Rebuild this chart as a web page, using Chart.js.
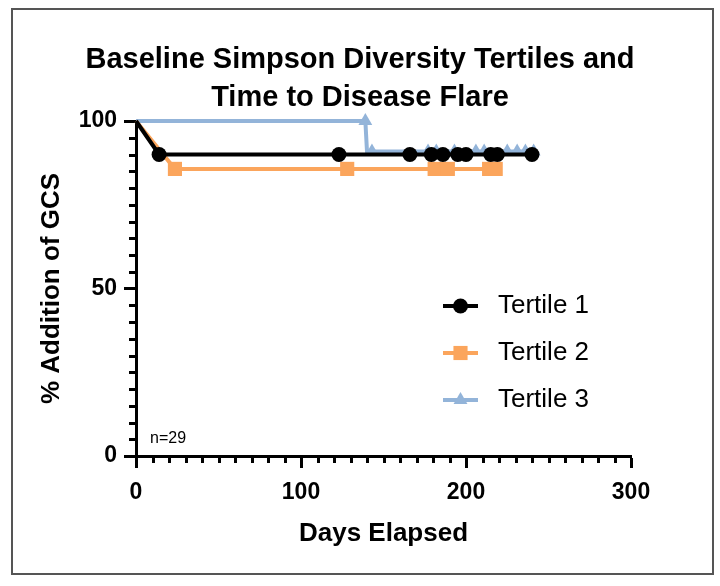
<!DOCTYPE html>
<html>
<head>
<meta charset="utf-8">
<script src="https://cdn.jsdelivr.net/npm/chart.js@4.4.1/dist/chart.umd.min.js"></script>
<style>
  html, body { margin: 0; padding: 0; background: #fff; }
  #wrap { position: relative; width: 720px; height: 586px; }
  #frame { position: absolute; left: 11px; top: 8px; width: 699px; height: 563px; border: 2px solid #555; pointer-events: none; }
</style>
</head>
<body>
<div id="wrap">
  <canvas id="c"></canvas>
  <div id="frame"></div>
</div>
<script>
// ---- data ----
const chartTitle = ['Baseline Simpson Diversity Tertiles and', 'Time to Disease Flare'];
const xTitle = 'Days Elapsed';
const yTitle = '% Addition of GCS';
const nLabel = 'n=29';
const seriesNames = ['Tertile 1', 'Tertile 2', 'Tertile 3'];

const t1Days = [0, 14, 123, 166, 179, 186, 195, 200, 215, 219, 240];
const t1Pct  = [100, 90, 90, 90, 90, 90, 90, 90, 90, 90, 90];
const t1Mark = [0, 1, 1, 1, 1, 1, 1, 1, 1, 1, 1];

const t2Days = [0, 23.6, 128, 181, 189, 214, 218];
const t2Pct  = [100, 85.7, 85.7, 85.7, 85.7, 85.7, 85.7];
const t2Mark = [0, 1, 1, 1, 1, 1, 1];

const t3Days = [0, 139, 140, 143, 177, 182, 193, 206, 211, 225, 231, 236, 241];
const t3Pct  = [100, 100, 90.9, 90.9, 90.9, 90.9, 90.9, 90.9, 90.9, 90.9, 90.9, 90.9, 90.9];
const t3Mark = [0, 1, 0, 1, 1, 1, 1, 1, 1, 1, 1, 1, 1];

const xTickLabels = [0, 100, 200, 300];
const yTickLabels = [0, 50, 100];

// ---- styles ----
const FONT = '"Liberation Sans", Arial, Helvetica, sans-serif';
const colors = ['#000000', '#FBA55C', '#93B4D9'];
const styles = ['circle', 'rect', 'triangle'];
const radii = [7.5, 10, 8];

function pts(days, pct) { return days.map((d, i) => ({ x: d, y: pct[i] })); }
function mk(name, days, pct, marks, i) {
  return {
    label: name,
    data: pts(days, pct),
    showLine: true,
    borderColor: colors[i],
    backgroundColor: colors[i],
    borderWidth: 4,
    tension: 0,
    pointStyle: styles[i],
    pointRadius: c => marks[c.dataIndex] ? radii[i] : 0,
    pointHoverRadius: c => marks[c.dataIndex] ? radii[i] : 0,
    pointBorderWidth: 0,
    pointBackgroundColor: colors[i],
    pointBorderColor: colors[i],
    clip: false
  };
}

function drawMarker(ctx, style, x, y, r, color) {
  ctx.fillStyle = color;
  ctx.beginPath();
  if (style === 'circle') {
    ctx.arc(x, y, r, 0, Math.PI * 2);
  } else if (style === 'rect') {
    const s = Math.SQRT1_2 * r;
    ctx.rect(x - s, y - s, 2 * s, 2 * s);
  } else {
    ctx.moveTo(x, y - r);
    ctx.lineTo(x + Math.sin(Math.PI * 2 / 3) * r, y - Math.cos(Math.PI * 2 / 3) * r);
    ctx.lineTo(x - Math.sin(Math.PI * 2 / 3) * r, y - Math.cos(Math.PI * 2 / 3) * r);
    ctx.closePath();
  }
  ctx.fill();
}

const decor = {
  id: 'decor',
  afterDraw(chart) {
    const ctx = chart.ctx;
    const xs = chart.scales.x, ys = chart.scales.y;
    ctx.save();
    // minor ticks
    ctx.strokeStyle = '#000';
    ctx.lineWidth = 3;
    xs.ticks.forEach(t => {
      if (!xTickLabels.includes(t.value)) {
        const px = Math.round(xs.getPixelForValue(t.value)) + 0.5;
        ctx.beginPath(); ctx.moveTo(px, xs.top); ctx.lineTo(px, xs.top + 7); ctx.stroke();
      }
    });
    ys.ticks.forEach(t => {
      if (!yTickLabels.includes(t.value)) {
        const py = Math.round(ys.getPixelForValue(t.value)) + 0.5;
        ctx.beginPath(); ctx.moveTo(ys.right, py); ctx.lineTo(ys.right - 7, py); ctx.stroke();
      }
    });
    // n label
    ctx.fillStyle = '#000';
    ctx.font = '16px ' + FONT;
    ctx.textAlign = 'left';
    ctx.textBaseline = 'middle';
    ctx.fillText(nLabel, chart.chartArea.left + 14, chart.chartArea.bottom - 17);
    // legend
    const lx = 443, lw = 35, ly0 = 306, gap = 47;
    chart.data.datasets.forEach((ds, i) => {
      const y = ly0 + i * gap;
      ctx.strokeStyle = colors[i];
      ctx.lineWidth = 4;
      ctx.beginPath(); ctx.moveTo(lx, y); ctx.lineTo(lx + lw, y); ctx.stroke();
      drawMarker(ctx, styles[i], lx + lw / 2, y, radii[i], colors[i]);
      ctx.fillStyle = '#000';
      ctx.font = '26px ' + FONT;
      ctx.textAlign = 'left';
      ctx.textBaseline = 'middle';
      ctx.fillText(ds.label, 498, y);
    });
    ctx.restore();
  }
};

new Chart(document.getElementById('c'), {
  type: 'scatter',
  data: {
    datasets: [
      mk(seriesNames[0], t1Days, t1Pct, t1Mark, 0),
      mk(seriesNames[1], t2Days, t2Pct, t2Mark, 1),
      mk(seriesNames[2], t3Days, t3Pct, t3Mark, 2)
    ]
  },
  options: {
    responsive: true,
    maintainAspectRatio: false,
    animation: false,
    events: [],
    layout: { padding: { left: 0, right: 0, top: 0, bottom: 0 } },
    plugins: {
      legend: { display: false },
      tooltip: { enabled: false },
      title: {
        display: true,
        text: chartTitle,
        color: '#000',
        font: { family: FONT, size: 29, weight: 'bold', lineHeight: '38px' },
        padding: { top: 41, bottom: 4 }
      }
    },
    scales: {
      x: {
        type: 'linear',
        min: 0, max: 300,
        afterFit: s => { s.height = 130; },
        border: { display: true, color: '#000', width: 3 },
        grid: {
          display: true, drawOnChartArea: false, drawTicks: true,
          tickLength: 12, tickWidth: 3,
          tickColor: c => (c.tick && xTickLabels.includes(c.tick.value)) ? '#000' : 'rgba(0,0,0,0)'
        },
        ticks: {
          stepSize: 10, autoSkip: false, maxRotation: 0, padding: 11,
          color: '#000',
          font: { family: FONT, size: 23, weight: 'bold' },
          callback: v => xTickLabels.includes(v) ? String(v) : ''
        },
        title: {
          display: true, text: xTitle, color: '#000',
          font: { family: FONT, size: 26, weight: 'bold', lineHeight: 1.2 },
          padding: { top: 0, bottom: 37 }
        }
      },
      y: {
        type: 'linear',
        min: 0, max: 100,
        afterFit: s => { s.width = 136; },
        border: { display: true, color: '#000', width: 3 },
        grid: {
          display: true, drawOnChartArea: false, drawTicks: true,
          tickLength: 12, tickWidth: 3,
          tickColor: c => (c.tick && yTickLabels.includes(c.tick.value)) ? '#000' : 'rgba(0,0,0,0)'
        },
        ticks: {
          stepSize: 5, autoSkip: false, padding: 7,
          color: '#000',
          font: { family: FONT, size: 23, weight: 'bold' },
          callback: v => yTickLabels.includes(v) ? String(v) : ''
        },
        title: {
          display: true, text: yTitle, color: '#000',
          font: { family: FONT, size: 26, weight: 'bold', lineHeight: 1.2 },
          padding: { top: 36, bottom: 0 }
        }
      },
      yRight: {
        type: 'linear',
        position: 'right',
        min: 0, max: 100,
        display: true,
        afterFit: s => { s.width = 89; },
        border: { display: false },
        grid: { display: false, drawTicks: false },
        ticks: { display: false }
      }
    }
  },
  plugins: [decor]
});
</script>
</body>
</html>
